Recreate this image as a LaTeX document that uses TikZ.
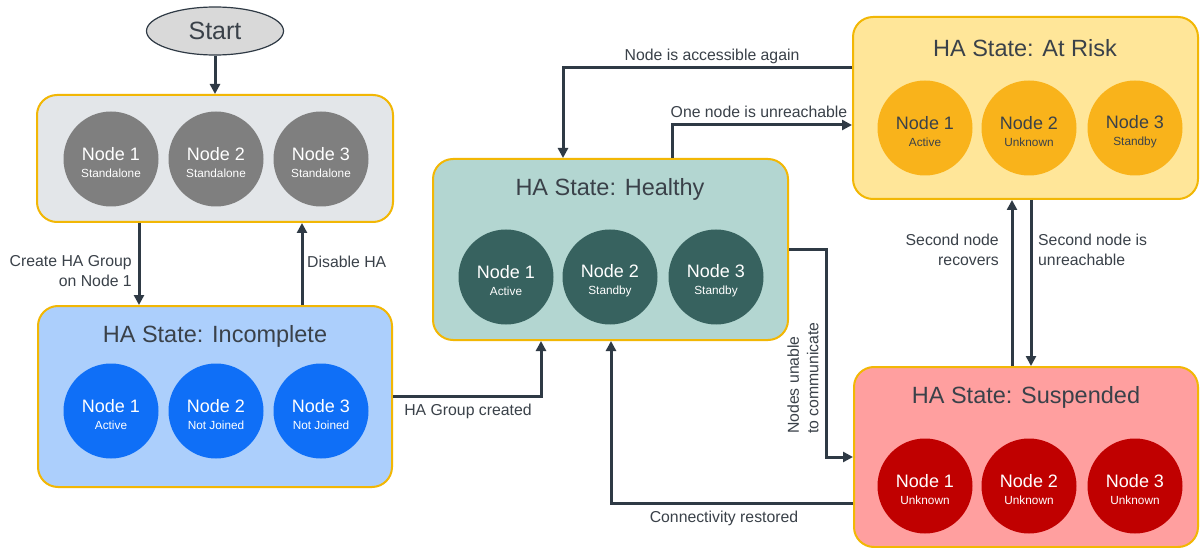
\documentclass[tikz,border=0pt]{standalone}
\usepackage{fontspec}
\setmainfont{Liberation Sans}
\usetikzlibrary{arrows.meta,shapes.geometric,calc}
\definecolor{ln}{HTML}{2F3A45}
\definecolor{txt}{HTML}{3A4149}
\definecolor{bord}{HTML}{F2B705}
\definecolor{safill}{HTML}{E3E6E9}
\definecolor{saball}{HTML}{7F7F7F}
\definecolor{incfill}{HTML}{ACCFFC}
\definecolor{incball}{HTML}{0F6FF7}
\definecolor{hlfill}{HTML}{B3D6D1}
\definecolor{hlball}{HTML}{37625F}
\definecolor{arfill}{HTML}{FFE699}
\definecolor{arball}{HTML}{F9B31B}
\definecolor{sufill}{HTML}{FF9F9F}
\definecolor{suball}{HTML}{C00000}
\definecolor{stfill}{HTML}{D9D9D9}
\newcommand\nd[2]{\rule{0pt}{20pt}#1\\{\fontsize{11.8}{14}\selectfont #2}}
\begin{document}
\begin{tikzpicture}[x=1pt,y=-1pt,
  box/.style={rectangle, rounded corners=20pt, draw=bord, line width=2pt, inner sep=0pt},
  ball/.style={circle, inner sep=0pt, minimum size=95pt, align=center, text=white, font=\fontsize{18}{17.5}\selectfont},
  title/.style={font=\fontsize{23.5}{27}\selectfont, text=txt, inner sep=0pt},
  lab/.style={font=\fontsize{15.8}{19.5}\selectfont, text=txt, inner sep=0pt},
  arr/.style={draw=ln, line width=3pt, -{Triangle[length=10pt,width=10pt]}}]
\useasboundingbox (0,0) rectangle (1200,548);
\fill[white] (0,0) rectangle (1200,548);

% Start
\node[ellipse, draw=ln, line width=1.2pt, fill=stfill, minimum width=137pt, minimum height=48pt, inner sep=0pt, font=\fontsize{25}{28}\selectfont, text=txt] (start) at (215,31) {Start};

% Standalone box
\node[box, fill=safill, minimum width=356pt, minimum height=127pt] (sa) at (215,158.5) {};
\node[ball, fill=saball] (sa1) at (111,159) {\nd{Node 1}{Standalone}};
\node[ball, fill=saball] (sa2) at (216,159) {\nd{Node 2}{Standalone}};
\node[ball, fill=saball] (sa3) at (321,159) {\nd{Node 3}{Standalone}};

% Incomplete
\node[box, fill=incfill, minimum width=354pt, minimum height=181pt] (inc) at (215,396.5) {};
\node[title] (inct) at (215,336) {HA State: Incomplete};
\node[ball, fill=incball] (inc1) at (111,411) {\nd{Node 1}{Active}};
\node[ball, fill=incball] (inc2) at (216,411) {\nd{Node 2}{Not Joined}};
\node[ball, fill=incball] (inc3) at (321,411) {\nd{Node 3}{Not Joined}};

% Healthy
\node[box, fill=hlfill, minimum width=355pt, minimum height=181pt] (hl) at (610.5,249.5) {};
\node[title] (hlt) at (610,189) {HA State: Healthy};
\node[ball, fill=hlball] (hl1) at (506,277) {\nd{Node 1}{Active}};
\node[ball, fill=hlball] (hl2) at (610,277) {\nd{Node 2}{Standby}};
\node[ball, fill=hlball] (hl3) at (716,277) {\nd{Node 3}{Standby}};

% At Risk
\node[box, fill=arfill, minimum width=345pt, minimum height=182pt] (ar) at (1025.5,108) {};
\node[title] (art) at (1025,48) {HA State: At Risk};
\node[ball, fill=arball, text=txt] (ar1) at (925,128) {\nd{Node 1}{Active}};
\node[ball, fill=arball, text=txt] (ar2) at (1029,128) {\nd{Node 2}{Unknown}};
\node[ball, fill=arball, text=txt] (ar3) at (1135,128) {\nd{Node 3}{Standby}};

% Suspended
\node[box, fill=sufill, minimum width=344pt, minimum height=180pt] (su) at (1026,457) {};
\node[title] (sut) at (1026,397) {HA State: Suspended};
\node[ball, fill=suball] (su1) at (925,486) {\nd{Node 1}{Unknown}};
\node[ball, fill=suball] (su2) at (1029,486) {\nd{Node 2}{Unknown}};
\node[ball, fill=suball] (su3) at (1135,486) {\nd{Node 3}{Unknown}};

% helper coordinates
\coordinate (xc) at (139,0);
\coordinate (xd) at (302,0);
\coordinate (xg) at (541,0);
\coordinate (ya) at (0,68);
\coordinate (xa) at (563,0);
\coordinate (xo) at (672,0);
\coordinate (yo) at (0,125);
\coordinate (k1) at (826,250);
\coordinate (k2) at (0,457);
\coordinate (k3) at (611,503);
\coordinate (x1) at (1012,0);
\coordinate (x2) at (1031,0);

% connectors
\draw[arr] (start) -- (sa);
\draw[arr] (sa.south -| xc) -- (inc.north -| xc);
\draw[arr] (inc.north -| xd) -- (sa.south -| xd);
\draw[arr] (inc.east) -| (hl.south -| xg);
\draw[arr] (ar.west |- ya) -| (hl.north -| xa);
\draw[arr] (hl.north -| xo) |- (ar.west |- yo);
\draw[arr] (hl.east |- k1) -- (k1) |- (su.west |- k2);
\draw[arr] (su.west |- k3) -| (hl.south -| k3);
\draw[arr] (su.north -| x1) -- (ar.south -| x1);
\draw[arr] (ar.south -| x2) -- (su.north -| x2);

% labels
\node[lab, anchor=east, align=right] (l1) at (132,271) {Create HA Group\\on Node 1};
\node[lab, anchor=west] (l2) at (307,262) {Disable HA};
\node[lab] (l3) at (468,411) {HA Group created};
\node[lab] (l4) at (712,56) {Node is accessible again};
\node[lab] (l5) at (759,112) {One node is unreachable};
\node[lab, anchor=east, align=right] (l6) at (999,250) {Second node\\recovers};
\node[lab, anchor=west, align=left] (l7) at (1038,250) {Second node is\\unreachable};
\node[lab, rotate=90, align=left] (l8) at (803,378) {Nodes unable\\to communicate};
\node[lab] (l9) at (724,518) {Connectivity restored};
\end{tikzpicture}
\end{document}
